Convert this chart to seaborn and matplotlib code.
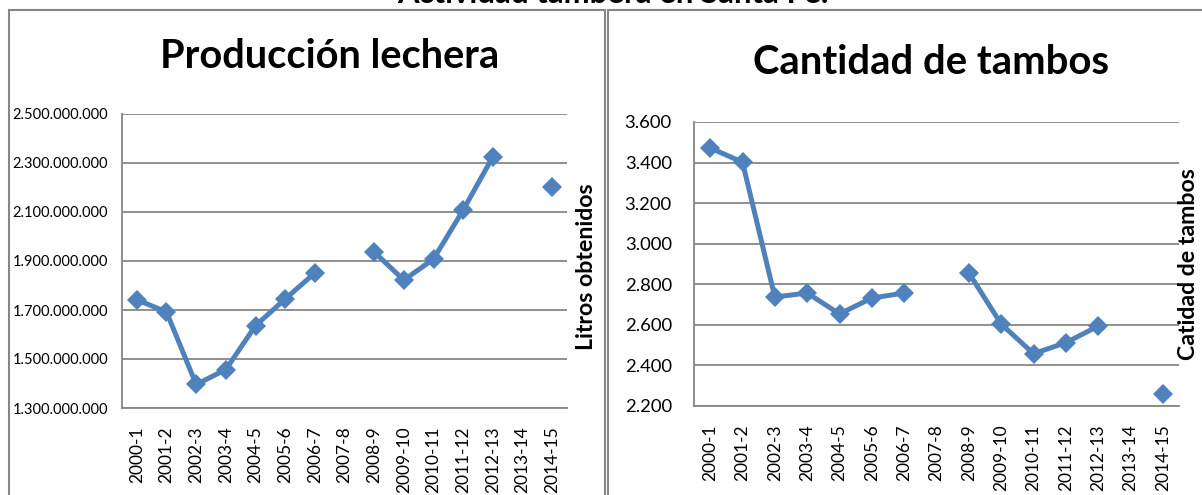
import numpy as np
import pandas as pd
import matplotlib
matplotlib.use("Agg")
import matplotlib.pyplot as plt
from matplotlib.patches import Rectangle
import seaborn as sns

periodos = ["2000-1", "2001-2", "2002-3", "2003-4", "2004-5", "2005-6", "2006-7",
            "2007-8", "2008-9", "2009-10", "2010-11", "2011-12", "2012-13",
            "2013-14", "2014-15"]

litros = [1.742e9, 1.692e9, 1.396e9, 1.457e9, 1.636e9, 1.745e9, 1.851e9,
          np.nan, 1.937e9, 1.822e9, 1.908e9, 2.108e9, 2.325e9,
          np.nan, 2.203e9]

tambos = [3472, 3402, 2737, 2757, 2654, 2732, 2757,
          np.nan, 2856, 2604, 2458, 2512, 2594,
          np.nan, 2258]

ticks_litros = [1.3e9, 1.5e9, 1.7e9, 1.9e9, 2.1e9, 2.3e9, 2.5e9]
ticks_tambos = [2200, 2400, 2600, 2800, 3000, 3200, 3400, 3600]

AZUL = "#4F81BD"
GRIS = "#878787"

sns.set_style("white")
plt.rcParams["font.family"] = ["Lato", "DejaVu Sans"]
plt.rcParams["text.color"] = "black"
plt.rcParams["axes.labelcolor"] = "black"
plt.rcParams["xtick.color"] = "black"
plt.rcParams["ytick.color"] = "black"


def miles(v):
    return f"{v:,.0f}".replace(",", ".")


def armar_df(valores):
    df = pd.DataFrame({"pos": range(len(periodos)), "valor": valores})
    # tramos separados donde falta el dato, para que la linea se corte
    df["tramo"] = df["valor"].isna().cumsum()
    return df.dropna()


def dibujar(ax, valores, ticks, ylabel, ytick_size, ytick_pad):
    df = armar_df(valores)
    sns.lineplot(data=df, x="pos", y="valor", units="tramo", estimator=None,
                 color=AZUL, lw=3.6, marker="D", markersize=10,
                 markeredgewidth=0, ax=ax)
    ax.set_xlim(-0.5, len(periodos) - 0.5)
    ax.set_ylim(ticks[0], ticks[-1])
    ax.set_yticks(ticks)
    ax.set_yticklabels([miles(t) for t in ticks], fontsize=ytick_size)
    ax.set_xticks(range(len(periodos)))
    ax.set_xticklabels(periodos, rotation=90, fontsize=12.5)
    ax.tick_params(axis="y", length=0, pad=ytick_pad)
    ax.tick_params(axis="x", length=0, pad=13)
    ax.grid(axis="y", color=GRIS, lw=1.3)
    ax.set_axisbelow(True)
    for lado in ["top", "right"]:
        ax.spines[lado].set_visible(False)
    for lado in ["left", "bottom"]:
        ax.spines[lado].set_color(GRIS)
        ax.spines[lado].set_linewidth(1.3)
    ax.set_xlabel("")
    ax.set_ylabel(ylabel, fontsize=16.7, fontweight="bold")
    ax.yaxis.set_label_position("right")
    return ax


fig = plt.figure(figsize=(12.02, 4.95), dpi=100)
W, H = 1202, 495

ax1 = fig.add_axes([122 / W, 1 - 408 / H, 445 / W, 294 / H])
ax2 = fig.add_axes([694 / W, 1 - 406 / H, 485 / W, 284 / H])

dibujar(ax1, litros, ticks_litros, "Litros obtenidos", 10.5, 10)
dibujar(ax2, tambos, ticks_tambos, "Catidad de tambos", 13.3, 16)
ax1.yaxis.set_label_coords(1.020, 0.48)
ax2.yaxis.set_label_coords(0.998, 0.5)

fig.text(330 / W, 1 - 57 / H, "Producción lechera", ha="center", va="center",
         fontsize=28.6, fontweight="bold")
fig.text(931 / W, 1 - 62 / H, "Cantidad de tambos", ha="center", va="center",
         fontsize=28.8, fontweight="bold")
fig.text(613 / W, 1 - 3 / H, "Actividad tambera en Santa Fe.", ha="center",
         va="baseline", fontsize=22.4, fontweight="bold")

# marcos de los dos graficos
fig.patches.append(Rectangle((9 / W, -0.05), 596 / W, 1.05 - 10 / H,
                             transform=fig.transFigure, fill=False,
                             edgecolor=GRIS, lw=1.5))
fig.patches.append(Rectangle((608 / W, -0.05), 600 / W, 1.05 - 10 / H,
                             transform=fig.transFigure, fill=False,
                             edgecolor=GRIS, lw=1.5))

fig.savefig("out.png", dpi=100)
